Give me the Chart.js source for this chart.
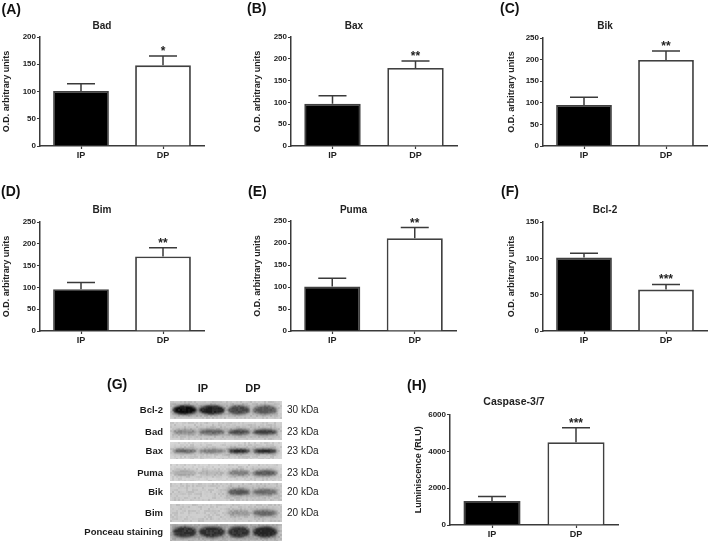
<!DOCTYPE html>
<html>
<head>
<meta charset="utf-8">
<title>Panels A-H</title>
<script src="https://cdn.jsdelivr.net/npm/chart.js@4"></script>
<style>
  html, body { margin: 0; padding: 0; background: #fff; }
  body { position: relative; width: 709px; height: 542px; overflow: hidden; font-family: "Liberation Sans", Arial, sans-serif; color: #1c1c1c; }
  canvas { position: absolute; filter: blur(0.4px); }
  .lbl { position: absolute; white-space: nowrap; line-height: 1; filter: blur(0.3px); }
  .letter { font-size: 14px; font-weight: bold; color: #111; }
  .prot { font-size: 9.5px; font-weight: bold; text-align: right; width: 110px; }
  .kda { font-size: 10px; }
  .lane { font-size: 11px; font-weight: bold; transform: translateX(-50%); }
</style>
</head>
<body>
<script>
// ————— Datos —————
const groups = ['IP', 'DP'];

const badValues = [101, 148];
const badErrors = [13, 17];
const badStars  = ['', '*'];

const baxValues = [97, 179];
const baxErrors = [18, 16];
const baxStars  = ['', '**'];

const bikValues = [95, 199];
const bikErrors = [18, 21];
const bikStars  = ['', '**'];

const bimValues = [96, 171];
const bimErrors = [15, 20];
const bimStars  = ['', '**'];

const pumaValues = [101, 211];
const pumaErrors = [19, 24];
const pumaStars  = ['', '**'];

const bcl2Values = [101, 57];
const bcl2Errors = [6, 7];
const bcl2Stars  = ['', '***'];

const caspValues = [1300, 4500];
const caspErrors = [250, 780];
const caspStars  = ['', '***'];

// Western blot (G): oscuridad de cada banda, carril 1-4
const blotRows     = ['Bcl-2', 'Bad', 'Bax', 'Puma', 'Bik', 'Bim', 'Ponceau staining'];
const blotKda      = ['30 kDa', '23 kDa', '23 kDa', '23 kDa', '20 kDa', '20 kDa', ''];
const blotDarkness = [
  [1.00, 0.90, 0.70, 0.60],
  [0.35, 0.55, 0.68, 0.75],
  [0.55, 0.45, 0.88, 0.88],
  [0.22, 0.15, 0.42, 0.62],
  [0.00, 0.00, 0.62, 0.50],
  [0.00, 0.00, 0.25, 0.52],
  [0.80, 0.80, 0.80, 0.85]
];
const blotTops     = [401, 422, 442, 464, 483, 504, 524];
const blotBottoms  = [419, 440, 459, 481, 501, 522, 541];
const blotBandY    = [410, 432, 451, 473, 492, 513, 532];
const blotBandH    = [4.4, 2.6, 2.0, 2.8, 3, 3, 5.4];
const blotGray     = [212, 208, 214, 214, 204, 204, 196];
const laneCenters  = [185, 212, 239, 265];
const laneHalf     = [13, 14, 12, 13];

// ————— Utiles —————
const INK = '#222';
const LINE = '#3a3a3a';
const FONT = '"Liberation Sans", Arial, sans-serif';

const errorPlugin = {
  id: 'errorBars',
  afterDatasetsDraw(chart) {
    const { ctx, scales: { x, y } } = chart;
    const { values, errors, stars } = chart.options.plugins.errorBars;
    ctx.save();
    values.forEach((v, i) => {
      const cx = x.getPixelForValue(i);
      const yTop = y.getPixelForValue(v + errors[i]);
      ctx.strokeStyle = LINE;
      ctx.lineWidth = 1.5;
      ctx.beginPath();
      ctx.moveTo(cx, y.getPixelForValue(v));
      ctx.lineTo(cx, yTop);
      ctx.moveTo(cx - 14, yTop);
      ctx.lineTo(cx + 14, yTop);
      ctx.stroke();
      if (stars[i]) {
        ctx.fillStyle = INK;
        ctx.font = 'bold 12px ' + FONT;
        ctx.textAlign = 'center';
        ctx.textBaseline = 'alphabetic';
        ctx.fillText(stars[i], cx, yTop - 1);
      }
    });
    ctx.restore();
  }
};

function panel(p) {
  const LEFT = 40, HEAD = 24, FOOT = 18, RIGHT = 3;
  const c = document.createElement('canvas');
  c.width = p.right - p.axisX + LEFT + RIGHT;
  c.height = p.bottom - p.top + HEAD + FOOT;
  c.style.left = (p.axisX - LEFT) + 'px';
  c.style.top = (p.top - HEAD) + 'px';
  document.body.appendChild(c);
  new Chart(c.getContext('2d'), {
    type: 'bar',
    data: {
      labels: groups,
      datasets: [{
        data: p.values,
        backgroundColor: ['#000', '#fff'],
        borderColor: '#404040',
        borderWidth: 1.8,
        barPercentage: 0.68,
        categoryPercentage: 1
      }]
    },
    options: {
      responsive: false,
      animation: false,
      layout: { autoPadding: false, padding: { right: RIGHT } },
      plugins: {
        legend: { display: false },
        tooltip: { enabled: false },
        title: {
          display: true,
          text: p.title,
          color: INK,
          font: { family: FONT, size: p.titleSize || 10, weight: 'bold', lineHeight: 1.2 },
          padding: { top: 18 - p.titleGap, bottom: p.titleGap - 6 }
        },
        errorBars: { values: p.values, errors: p.errors, stars: p.stars }
      },
      scales: {
        x: {
          afterFit: s => { s.height = FOOT; },
          grid: { offset: false, drawOnChartArea: false, tickLength: 3, tickColor: LINE, tickWidth: 1.2 },
          border: { color: LINE, width: 1.5 },
          ticks: { color: INK, font: { family: FONT, size: 9, weight: 'bold' }, padding: 1, maxRotation: 0 }
        },
        y: {
          min: 0,
          max: p.max,
          afterFit: s => { s.width = LEFT; },
          grid: { drawOnChartArea: false, tickLength: 3, tickColor: LINE, tickWidth: 1.2 },
          border: { color: LINE, width: 1.5 },
          ticks: { stepSize: p.step, color: INK, font: { family: FONT, size: 8, weight: 'bold' }, padding: 1, callback: v => String(v) },
          title: {
            display: true,
            text: p.yTitle,
            color: INK,
            font: { family: FONT, size: 9, weight: 'bold', lineHeight: 1.2 },
            padding: { top: p.yTitlePad, bottom: 0 }
          }
        }
      }
    },
    plugins: [errorPlugin]
  });
}

function label(text, cls, x, y) {
  const d = document.createElement('div');
  d.className = 'lbl ' + cls;
  d.textContent = text;
  d.style.left = x + 'px';
  d.style.top = y + 'px';
  document.body.appendChild(d);
}

// Grano fijo de la película; no es un dato
const grain = (x, y) => {
  const s = Math.sin(x * 12.9898 + y * 78.233) * 43758.5453;
  return s - Math.floor(s);
};

function drawBlot() {
  const x0 = 170, x1 = 282, y0 = 398;
  const c = document.createElement('canvas');
  c.width = x1 - x0;
  c.height = 145;
  c.style.left = x0 + 'px';
  c.style.top = y0 + 'px';
  c.style.filter = 'blur(0.5px)';
  document.body.appendChild(c);
  const ctx = c.getContext('2d');
  blotRows.forEach((row, r) => {
    const top = blotTops[r] - y0, bot = blotBottoms[r] - y0;
    const g = blotGray[r];
    ctx.save();
    ctx.beginPath();
    ctx.rect(0, top, c.width, bot - top);
    ctx.clip();
    ctx.fillStyle = `rgb(${g},${g},${g})`;
    ctx.fillRect(0, top, c.width, bot - top);
    // halo ancho y luego el centro de cada banda
    blotDarkness[r].forEach((dark, i) => {
      if (!dark) return;
      const cx = laneCenters[i] - x0, cy = blotBandY[r] - y0;
      const core = Math.round(g - (g - 10) * dark);
      const halo = Math.round(g - (g - 10) * dark * 0.35);
      ctx.filter = 'blur(2.4px)';
      ctx.fillStyle = `rgb(${halo},${halo},${halo})`;
      ctx.fillRect(cx - laneHalf[i], cy - blotBandH[r] - 1.5, laneHalf[i] * 2, (blotBandH[r] + 1.5) * 2);
      ctx.filter = 'blur(1.2px)';
      ctx.fillStyle = `rgb(${core},${core},${core})`;
      ctx.beginPath();
      ctx.ellipse(cx, cy, laneHalf[i] - 1, blotBandH[r], 0, 0, Math.PI * 2);
      ctx.fill();
    });
    ctx.filter = 'none';
    for (let y = top; y < bot; y += 2) {
      for (let x = 0; x < c.width; x += 2) {
        const n = grain(x + r * 7, y) - 0.5;
        ctx.fillStyle = n > 0 ? `rgba(255,255,255,${n * 0.18})` : `rgba(0,0,0,${-n * 0.16})`;
        ctx.fillRect(x, y, 2, 2);
      }
    }
    ctx.restore();
    label(row, 'prot', 53, blotBandY[r] - 5);
    if (blotKda[r]) label(blotKda[r], 'kda', 287, blotBandY[r] - 5);
  });
}

// ————— Paneles —————
const OD = 'O.D. arbitrary units';
panel({ title: 'Bad',  values: badValues,  errors: badErrors,  stars: badStars,  max: 200, step: 50, axisX: 40,  right: 204, top: 37,  bottom: 146, titleGap: 11, yTitle: OD, yTitlePad: 1 });
panel({ title: 'Bax',  values: baxValues,  errors: baxErrors,  stars: baxStars,  max: 250, step: 50, axisX: 291, right: 457, top: 37,  bottom: 146, titleGap: 11, yTitle: OD, yTitlePad: 1 });
panel({ title: 'Bik',  values: bikValues,  errors: bikErrors,  stars: bikStars,  max: 250, step: 50, axisX: 543, right: 707, top: 38,  bottom: 146, titleGap: 12, yTitle: OD, yTitlePad: 3 });
panel({ title: 'Bim',  values: bimValues,  errors: bimErrors,  stars: bimStars,  max: 250, step: 50, axisX: 40,  right: 204, top: 222, bottom: 331, titleGap: 12, yTitle: OD, yTitlePad: 1 });
panel({ title: 'Puma', values: pumaValues, errors: pumaErrors, stars: pumaStars, max: 250, step: 50, axisX: 291, right: 456, top: 221, bottom: 331, titleGap: 11, yTitle: OD, yTitlePad: 1 });
panel({ title: 'Bcl-2', values: bcl2Values, errors: bcl2Errors, stars: bcl2Stars, max: 150, step: 50, axisX: 543, right: 707, top: 222, bottom: 331, titleGap: 12, yTitle: OD, yTitlePad: 3 });
panel({ title: 'Caspase-3/7', titleSize: 10.5, values: caspValues, errors: caspErrors, stars: caspStars, max: 6000, step: 2000, axisX: 450, right: 618, top: 414, bottom: 525, titleGap: 12, yTitle: 'Luminiscence (RLU)', yTitlePad: 3 });

drawBlot();

label('IP', 'lane', 203, 383);
label('DP', 'lane', 253, 383);
label('(A)', 'letter', 1.5, 2);
label('(B)', 'letter', 247, 1);
label('(C)', 'letter', 500, 1);
label('(D)', 'letter', 1, 184);
label('(E)', 'letter', 248, 184);
label('(F)', 'letter', 501, 184);
label('(G)', 'letter', 107, 377);
label('(H)', 'letter', 407, 378);
</script>
</body>
</html>
